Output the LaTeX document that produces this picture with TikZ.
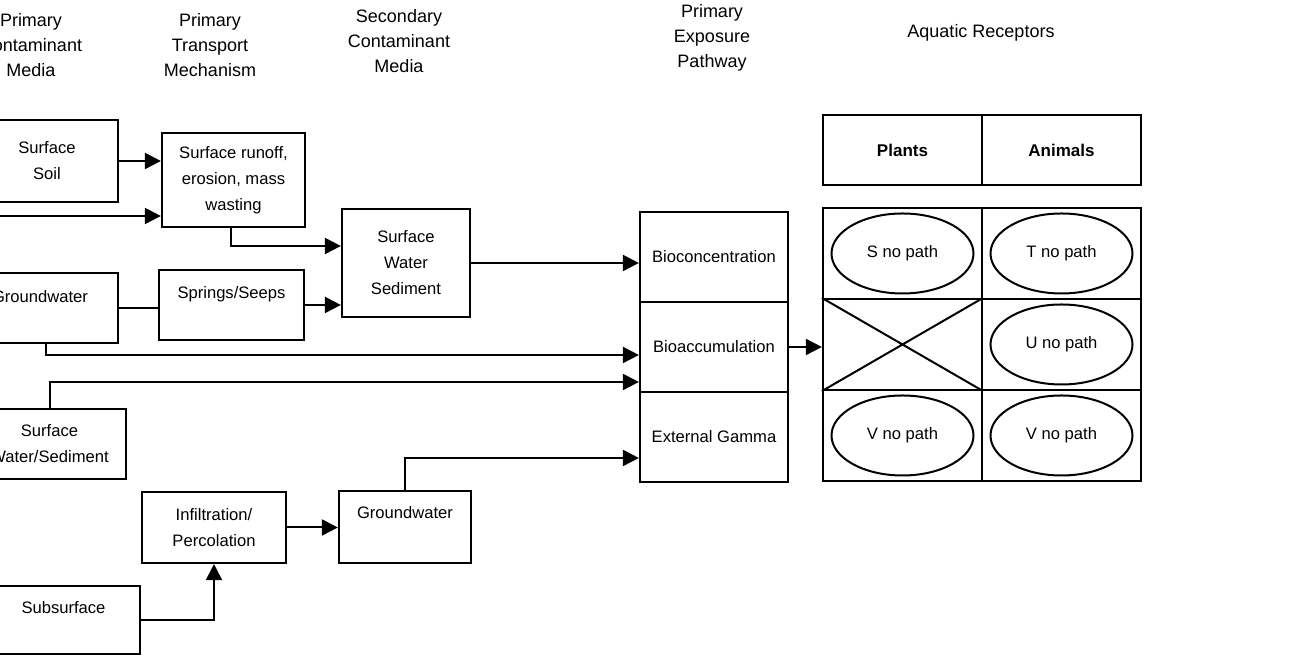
\documentclass[tikz,border=0pt]{standalone}
\usepackage{fontspec}
\setmainfont{Liberation Sans}
\usetikzlibrary{arrows.meta,shapes.geometric}

\begin{document}
\begin{tikzpicture}[x=0.5pt,y=0.5pt,
  box/.style={draw,line width=1.1pt,inner sep=0pt,align=center,font=\fontsize{8.3}{13}\selectfont},
  high/.style={text height=6pt,text depth=#1},
  bold/.style={font=\fontsize{8.5}{13}\selectfont\bfseries},
  head/.style={align=center,font=\fontsize{9}{12.5}\selectfont},
  oval/.style={draw,ellipse,line width=1pt,minimum width=71pt,minimum height=40pt,inner sep=0pt,font=\fontsize{8.3}{13}\selectfont},
  link/.style={line width=1pt},
  flow/.style={line width=1pt,-{Triangle[length=8pt,width=8pt]}}]
\useasboundingbox (0,0) rectangle (1308,657);
\clip (0,0) rectangle (1308,657);
\node[head] (h1) at (31,612) {Primary\\Contaminant\\Media};
\node[head] (h2) at (210,612) {Primary\\Transport\\Mechanism};
\node[head] (h3) at (399,616) {Secondary\\Contaminant\\Media};
\node[head] (h4) at (712,619) {Primary\\Exposure\\Pathway};
\node[head] (h5) at (981,624) {Aquatic Receptors};

\node[box,minimum width=71pt,minimum height=41pt] (soil) at (47,496) {Surface\\Soil};
\node[box,minimum width=71.5pt,minimum height=47pt] (runoff) at (233.5,477) {Surface runoff,\\erosion, mass\\wasting};
\node[box,high=11pt,minimum width=78pt,minimum height=35pt] (gwa) at (40,349) {Groundwater};
\node[box,high=12pt,minimum width=72.5pt,minimum height=35pt] (seeps) at (231.5,352) {Springs/Seeps};
\node[box,minimum width=64pt,minimum height=54pt] (sws) at (406,394) {Surface\\Water\\Sediment};
\node[box,minimum width=76.5pt,minimum height=35pt] (swsed) at (49.5,213) {Surface\\Water/Sediment};
\node[box,minimum width=72pt,minimum height=35.5pt] (infil) at (214,129.5) {Infiltration/\\Percolation};
\node[box,high=14pt,minimum width=66pt,minimum height=36pt] (gwb) at (405,130) {Groundwater};
\node[box,high=12pt,minimum width=76.5pt,minimum height=34pt] (subs) at (63.5,37) {Subsurface};

\foreach \t [count=\i] in {Bioconcentration,Bioaccumulation,External Gamma}
  \node[box,minimum width=74pt,minimum height=45pt] (p\i) at (714,490-90*\i) {\t};

\node[box,bold,minimum width=79.5pt,minimum height=35pt] (plants) at (902.5,507) {Plants};
\node[box,bold,minimum width=79.5pt,minimum height=35pt] (animals) at (1061.5,507) {Animals};
\foreach \r in {1,2,3}{\foreach \c in {1,2}{
  \node[box,minimum width=79.5pt,minimum height=45.5pt] (c\r\c) at (743.5+159*\c,494.5-91*\r) {};
}}
\foreach \cell/\t in {c11/S,c12/T,c22/U,c31/V,c32/V}
  \node[oval] (o-\cell) at (\cell) {\t{} no path};
\draw[link] (c21.north west) -- (c21.south east) (c21.south west) -- (c21.north east);

\coordinate (in1) at (-10,441);
\draw[flow] (soil.east) -- (soil.east -| runoff.west);
\draw[flow] (in1) -- (in1 -| runoff.west);
\draw[flow] ([xshift=-1.5pt]runoff.south) |- ([yshift=8.5pt]sws.west);
\draw[link] (gwa.east) -- (gwa.east -| seeps.west);
\draw[flow] (seeps.east) -- (seeps.east -| sws.west);
\draw[flow] (sws.east) -- (sws.east -| p1.west);
\draw[flow] ([xshift=3pt]gwa.south) |- ([yshift=-4pt]p2.west);
\draw[flow] (swsed.north) |- ([yshift=-17.5pt]p2.west);
\draw[flow] (gwb.north) |- ([yshift=-10.5pt]p3.west);
\draw[flow] (infil.east) -- (infil.east -| gwb.west);
\draw[flow] (subs.east) -| (infil.south);
\draw[flow] (p2.east) -- (p2.east -| c21.west);
\end{tikzpicture}
\end{document}
